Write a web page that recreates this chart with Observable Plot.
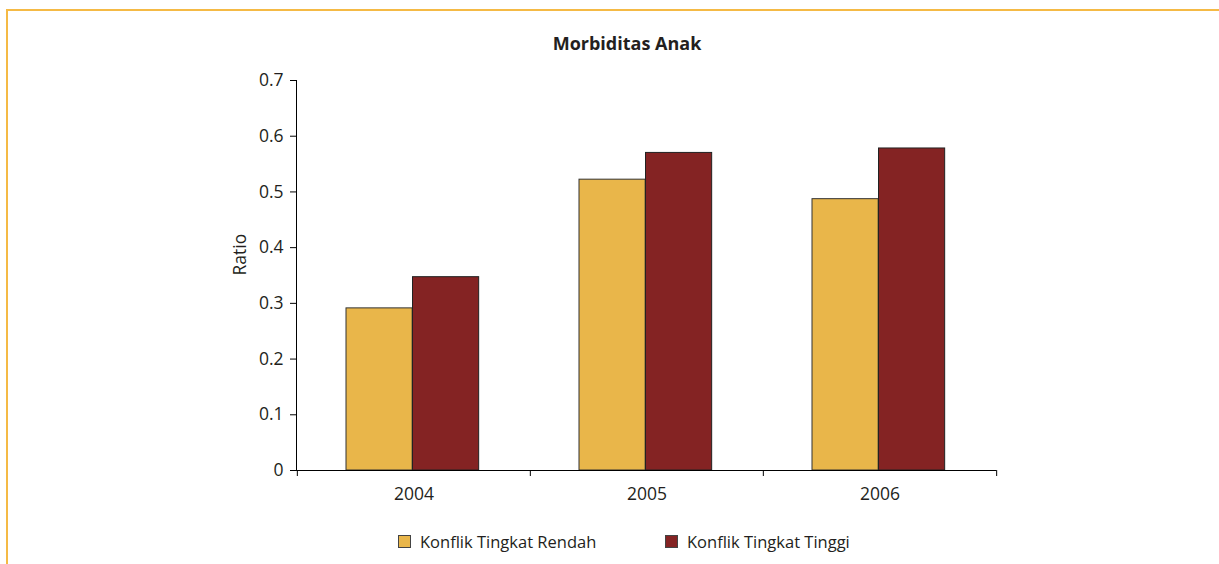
<!DOCTYPE html>
<html><head><meta charset="utf-8">
<script src="https://cdn.jsdelivr.net/npm/d3@7"></script>
<script src="https://cdn.jsdelivr.net/npm/@observablehq/plot@0.6"></script>
<style>
body{margin:0;background:#fff;font-family:"Open Sans",sans-serif;color:#231f20;}
#wrap{position:relative;width:1219px;height:564px;overflow:hidden;}
#border{position:absolute;left:6px;top:9px;width:1230px;height:600px;border-top:2.5px solid #F5BA45;border-left:2.5px solid #F5BA45;box-sizing:border-box;}
#title{position:absolute;top:31px;left:627px;transform:translateX(-50%);font-weight:bold;font-size:18px;white-space:nowrap;}
#chart{position:absolute;left:0;top:0;}
.leg{position:absolute;top:530px;font-size:16.5px;white-space:nowrap;display:flex;align-items:center;}
.sw{display:inline-block;width:11px;height:11px;border:1px solid #444;margin-right:9px;}
</style></head>
<body><div id="wrap"><div id="border"></div><div id="title">Morbiditas Anak</div><div id="chart"></div><div id="legend"></div></div>
<script>
const years = ["2004", "2005", "2006"];
const seriesNames = ["Konflik Tingkat Rendah", "Konflik Tingkat Tinggi"];
const rendah = [0.291, 0.522, 0.487];
const tinggi = [0.347, 0.570, 0.578];
const yTicks = [0, 0.1, 0.2, 0.3, 0.4, 0.5, 0.6, 0.7];
const colors = ["#E9B64A", "#842323"];

const data = [];
years.forEach((y, i) => {
  data.push({year: y, series: seriesNames[0], value: rendah[i]});
  data.push({year: y, series: seriesNames[1], value: tinggi[i]});
});

const W = 1219, H = 510, mL = 296, mR = 223, mT = 80, mB = 40;
const bw = (W - mL - mR) / years.length;

const plot = Plot.plot({
  width: W, height: H,
  marginLeft: mL, marginRight: mR, marginTop: mT, marginBottom: mB,
  style: {fontFamily: "Open Sans", fontSize: "17.5px", color: "#231f20", background: "transparent"},
  x: {domain: years, padding: 0, label: null},
  y: {domain: [0, 0.7], label: null},
  marks: [
    Plot.barY(data.filter(d => d.series === seriesNames[0]), {x: "year", y: "value", fill: colors[0], stroke: "#333", strokeWidth: 1, insetLeft: 49, insetRight: bw - 115.5}),
    Plot.barY(data.filter(d => d.series === seriesNames[1]), {x: "year", y: "value", fill: colors[1], stroke: "#222", strokeWidth: 1, insetLeft: 115.5, insetRight: bw - 182}),
    Plot.frame({anchor: "left", stroke: "#000"}),
    Plot.ruleY([0], {stroke: "#000"}),
    Plot.ruleX(years, {x: d => d, y1: 0, y2: 0, insetBottom: -6, dx: -bw / 2, stroke: "#000"}),
    Plot.ruleX([years[years.length - 1]], {x: d => d, y1: 0, y2: 0, insetBottom: -6, dx: bw / 2, stroke: "#000"}),
    Plot.axisY({ticks: yTicks, tickSize: 6, tickPadding: 7, tickFormat: d => d === 0 ? "0" : d.toFixed(1), label: null, stroke: "#000"}),
    Plot.axisX({tickSize: 0, tickPadding: 17, label: null}),
    Plot.text(["Ratio"], {frameAnchor: "left", rotate: -90, dx: -56, text: d => d, fill: "#231f20"})
  ]
});
document.getElementById("chart").appendChild(plot);

const legend = document.getElementById("legend");
const legX = [398, 665];
seriesNames.forEach((s, i) => {
  const item = document.createElement("div");
  item.className = "leg";
  item.style.left = legX[i] + "px";
  item.innerHTML = `<span class="sw" style="background:${colors[i]}"></span><span>${s}</span>`;
  legend.appendChild(item);
});
</script></body></html>
